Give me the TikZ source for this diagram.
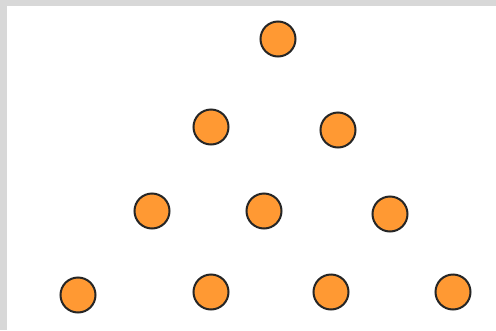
\documentclass[tikz,border=0pt]{standalone}
\usepackage{tikz}

\definecolor{naranja}{RGB}{255,153,51}
\definecolor{marco}{RGB}{216,216,216}

\begin{document}
\begin{tikzpicture}[
    x=1pt, y=-1pt,
    bola/.style={circle, fill=naranja, draw=black!85, line width=2pt,
      minimum size=35pt, inner sep=0pt}
  ]

    % --- Fondo y marco ---
    \useasboundingbox (0,0) rectangle (496,330);
    \fill[marco] (0,0) rectangle (496,330);
    \fill[white] (7,6) rectangle (496,330);

    % --- Fila 1 ---
    \node[bola] (b1) at (278,39) {};

    % --- Fila 2 ---
    \node[bola] (b2) at (211,127) {};
    \node[bola] (b3) at (338,130) {};

    % --- Fila 3 ---
    \node[bola] (b4) at (152,211) {};
    \node[bola] (b5) at (264,211) {};
    \node[bola] (b6) at (390,214) {};

    % --- Fila 4 ---
    \node[bola] (b7) at (78,295) {};
    \node[bola] (b8) at (211,292) {};
    \node[bola] (b9) at (331,292) {};
    \node[bola] (b10) at (453,292) {};

  \end{tikzpicture}
\end{document}
